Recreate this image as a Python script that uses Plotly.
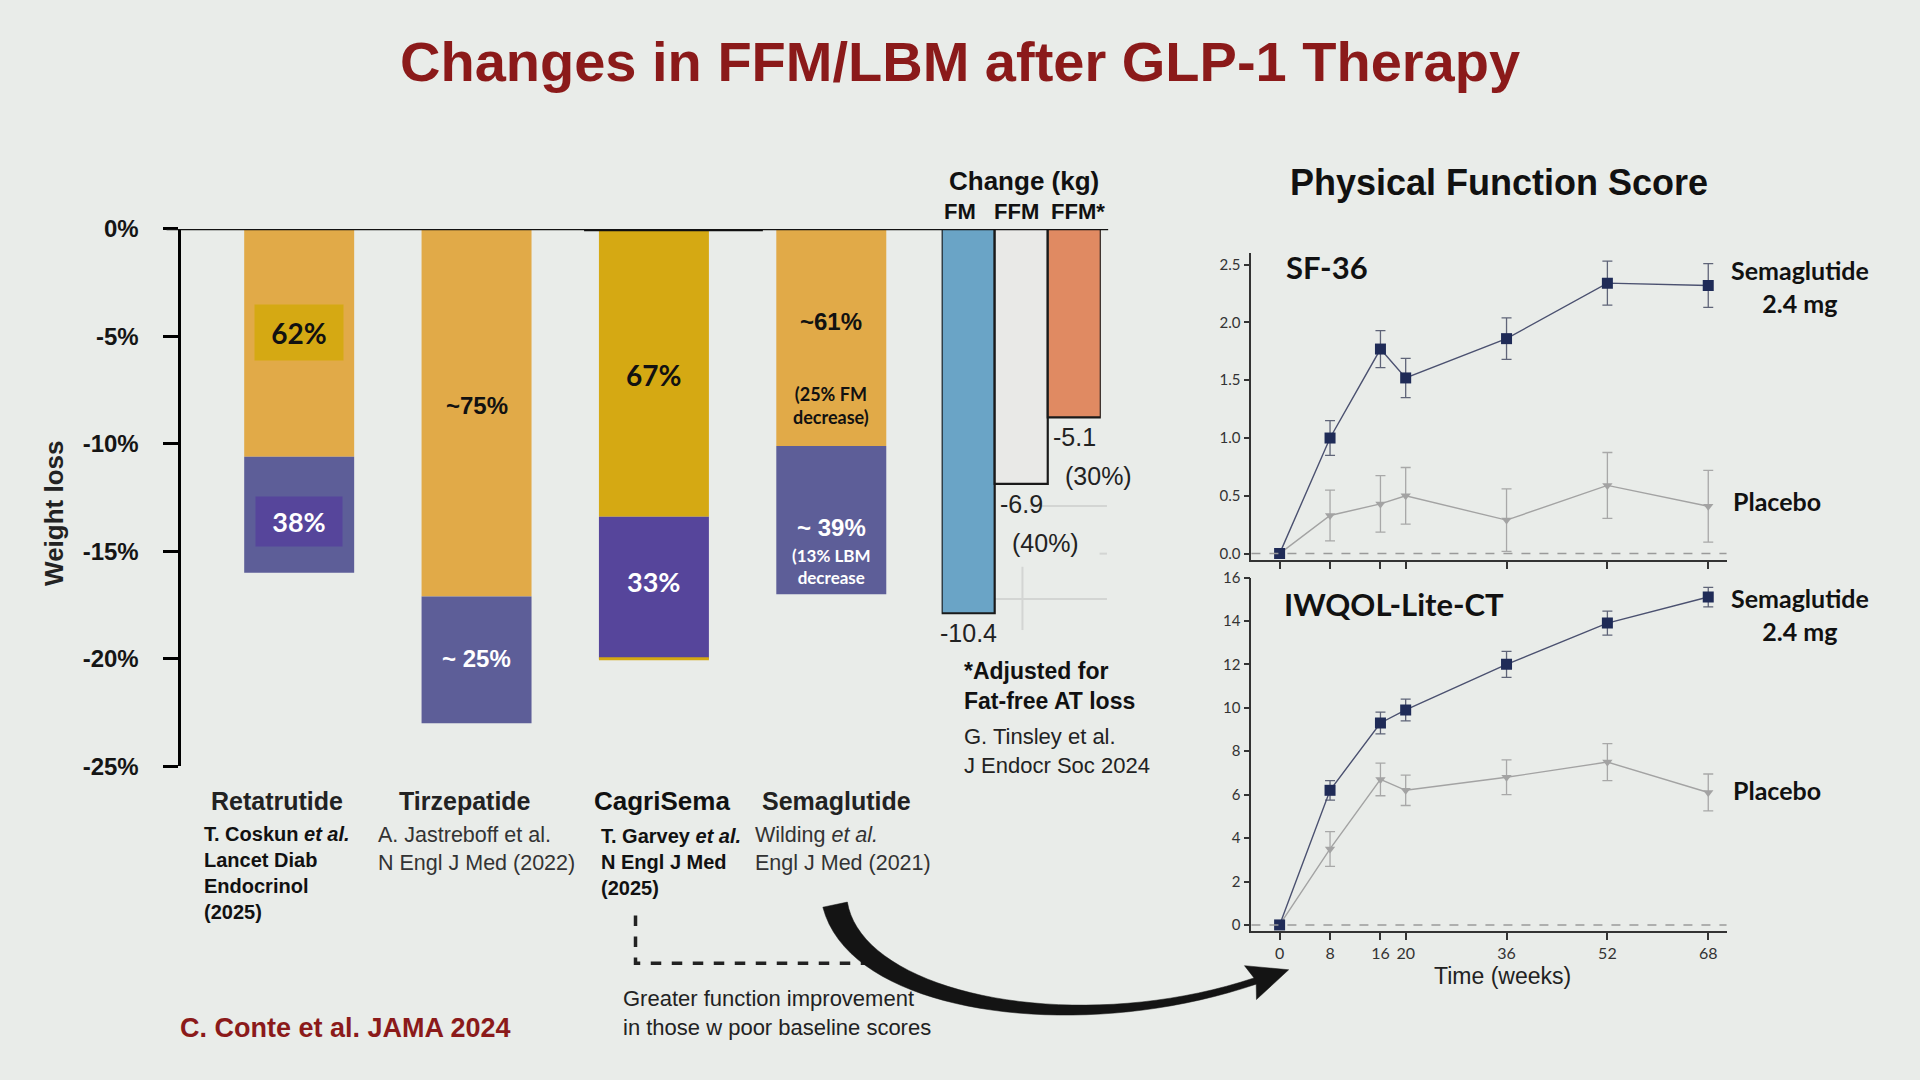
import numpy as np
import plotly.graph_objects as go

### Changes in FFM/LBM after GLP-1 therapy - slide rebuilt in plotly

# weight loss split (% of body weight), fat part then lean part
drugs = ['Retatrutide', 'Tirzepatide', 'CagriSema', 'Semaglutide']
fat_loss = [-10.6, -17.1, -13.4, -10.1]
lean_loss = [-5.4, -5.9, -6.6, -6.9]
fat_share = ['62%', '~75%', '67%', '~61%']
lean_share = ['38%', '~ 25%', '33%', '~ 39%']
pct_ticks = [0, -5, -10, -15, -20, -25]
pct_ticktext = ['0%', '-5%', '-10%', '-15%', '-20%', '-25%']

# Tinsley et al. change in kg
kg_labels = ['FM', 'FFM', 'FFM*']
kg_change = [-10.4, -6.9, -5.1]
kg_share = ['', '(40%)', '(30%)']

# physical function scores (STEP 1)
weeks = [0, 8, 16, 20, 36, 52, 68]
sf36_sema = [0.0, 1.00, 1.77, 1.52, 1.86, 2.34, 2.32]
sf36_sema_err = [0.0, 0.15, 0.16, 0.17, 0.18, 0.19, 0.19]
sf36_plac = [0.0, 0.33, 0.43, 0.50, 0.29, 0.59, 0.41]
sf36_plac_err = [0.0, 0.22, 0.245, 0.245, 0.27, 0.285, 0.31]
iwqol_sema = [0.0, 6.2, 9.3, 9.9, 12.0, 13.9, 15.1]
iwqol_sema_err = [0.0, 0.45, 0.5, 0.5, 0.6, 0.55, 0.45]
iwqol_plac = [0.0, 3.5, 6.7, 6.2, 6.8, 7.5, 6.1]
iwqol_plac_err = [0.0, 0.8, 0.75, 0.7, 0.8, 0.85, 0.85]
sf36_ticks = [0, 0.5, 1.0, 1.5, 2.0, 2.5]
iwqol_ticks = [0, 2, 4, 6, 8, 10, 12, 14, 16]

BG = '#e9ece9'
RED = '#8b1a1a'
ARIAL = 'Liberation Sans, Arial'
CAL = 'Lato, Carlito, Calibri'

fat_colors = ['#e1aa48', '#e1aa48', '#d5a913', '#e1aa48']
lean_colors = ['#5d5e98', '#5d5e98', '#56459b', '#5d5e98']
kg_colors = ['#6aa4c6', '#e9e9e7', '#e08a62']

# measured the slide on a 1568 x 882 grid
W0, H0 = 1568, 882
def px(x):
    return x / W0
def py(y):
    return 1 - y / H0

fig = go.Figure()

# left: stacked weight-loss bars
fig.add_trace(go.Bar(x=drugs, y=fat_loss, width=0.62, marker=dict(color=fat_colors, line_width=0),
                     xaxis='x', yaxis='y', hoverinfo='skip'))
fig.add_trace(go.Bar(x=drugs, y=lean_loss, width=0.62, marker=dict(color=lean_colors, line_width=0),
                     xaxis='x', yaxis='y', hoverinfo='skip'))

# middle: change in kg
fig.add_trace(go.Bar(x=kg_labels, y=kg_change, width=1.0,
                     marker=dict(color=kg_colors, line=dict(color='#1a1a1a', width=2.2)),
                     xaxis='x2', yaxis='y2', hoverinfo='skip'))

# right: SF-36 and IWQOL-Lite-CT
def add_series(y, err, ax, color, ecolor, symbol, size):
    fig.add_trace(go.Scatter(x=weeks, y=y, mode='lines+markers', xaxis='x' + ax, yaxis='y' + ax,
                             line=dict(color=color, width=1.4),
                             marker=dict(symbol=symbol, size=size, color=color if symbol != 'square' else '#1f2b57'),
                             error_y=dict(type='data', array=err, color=ecolor, thickness=1.3, width=5)))

add_series(sf36_plac, sf36_plac_err, '3', '#a3a3a3', '#a8a8a8', 'triangle-down', 9)
add_series(sf36_sema, sf36_sema_err, '3', '#4b5170', '#5f6478', 'square', 11)
add_series(iwqol_plac, iwqol_plac_err, '4', '#a3a3a3', '#a8a8a8', 'triangle-down', 9)
add_series(iwqol_sema, iwqol_sema_err, '4', '#4b5170', '#5f6478', 'square', 11)

right_x = dict(domain=[px(1022), px(1410)], range=[-4.47, 70.9], tickvals=weeks, ticks='outside',
               ticklen=7, tickwidth=1.5, tickcolor='#333', showline=True, linecolor='#333', linewidth=1.8,
               showgrid=False, zeroline=False, tickfont=dict(family=CAL, size=16, color='#333'))
right_y = dict(ticks='outside', ticklen=6, tickwidth=1.5, tickcolor='#333', showline=True, linecolor='#333',
               linewidth=1.8, showgrid=False, zeroline=False, tickfont=dict(family=CAL, size=15, color='#333'))

fig.update_layout(
    width=1920, height=1080, autosize=False,
    margin=dict(l=0, r=0, t=0, b=0),
    paper_bgcolor=BG, plot_bgcolor=BG,
    showlegend=False, barmode='relative',
    xaxis=dict(domain=[px(148), px(760)], range=[-0.665, 3.56], visible=False),
    yaxis=dict(domain=[py(630), py(180)], range=[-25, 0], anchor='x',
               tickvals=pct_ticks, ticktext=pct_ticktext, ticks='outside', ticklen=15, tickwidth=2.5,
               tickcolor='black', showline=True, linecolor='black', linewidth=2.5, showgrid=False,
               zeroline=False, ticklabelstandoff=20,
               tickfont=dict(family=ARIAL, size=24, color='#151515', weight='bold')),
    xaxis2=dict(domain=[px(769), px(899)], range=[-0.5, 2.5], anchor='y2', visible=False),
    yaxis2=dict(domain=[py(613.4), py(180)], range=[-14, 0], anchor='x2', visible=False),
    xaxis3=dict(right_x, anchor='y3', showticklabels=False),
    yaxis3=dict(right_y, domain=[py(457), py(200)], range=[-0.052, 2.603], anchor='x3',
                tickvals=sf36_ticks, tickformat='.1f'),
    xaxis4=dict(right_x, anchor='y4'),
    yaxis4=dict(right_y, domain=[py(768), py(472)], range=[-0.275, 16], anchor='x4', tickvals=iwqol_ticks),
)

ann = []
def txt(x, y, text, size, family=ARIAL, color='#111', xanchor='center', yanchor='middle', **kw):
    d = dict(x=x, y=y, xref=kw.pop('xref', 'paper'), yref=kw.pop('yref', 'paper'), text=text,
             showarrow=False, xanchor=xanchor, yanchor=yanchor, align=kw.pop('align', 'center'),
             font=dict(family=family, size=size, color=color))
    d.update(kw)
    ann.append(d)

txt(px(784), py(40), '<b>Changes in FFM/LBM after GLP-1 Therapy</b>', 56, color=RED)
txt(px(44), py(418), '<b>Weight loss</b>', 26, color='#222', textangle=-90)

# segment labels on the stacked bars
fat_y = [-4.8, -8.2, -6.8, -4.3]
lean_y = [-13.6, -20.0, -16.4, -13.9]
for i, d in enumerate(drugs):
    fam = CAL if fat_share[i] in ('62%', '67%') else ARIAL
    box = dict(bgcolor='#d5a913', width=86, height=53) if i == 0 else {}
    txt(d, fat_y[i], '<b>%s</b>' % fat_share[i], 28 if fam == CAL else 24, family=fam,
        xref='x', yref='y', **box)
    fam = CAL if lean_share[i] in ('38%', '33%') else ARIAL
    box = dict(bgcolor='#56459b', width=84, height=47) if i == 0 else {}
    txt(d, lean_y[i], '<b>%s</b>' % lean_share[i], 27 if fam == CAL else 24, family=fam, color='white',
        xref='x', yref='y', **box)
txt('Semaglutide', -8.2, '<b>(25% FM<br>decrease)</b>', 18, family=CAL, xref='x', yref='y')
txt('Semaglutide', -15.7, '<b>(13% LBM<br>decrease</b>', 17, family=CAL, color='white', xref='x', yref='y')

# drug names and references
txt(px(226), py(659), '<b>Retatrutide</b>', 25, color='#222')
txt(px(380), py(659), '<b>Tirzepatide</b>', 25, color='#222')
txt(px(541), py(659), '<b>CagriSema</b>', 26, color='#111')
txt(px(683), py(659), '<b>Semaglutide</b>', 25, color='#222')
txt(px(165), py(676), '<b>T. Coskun <i>et al.</i><br>Lancet Diab<br>Endocrinol<br>(2025)</b>', 20,
    xanchor='left', yanchor='top', align='left')
txt(px(307), py(676), 'A. Jastreboff et al.<br>N Engl J Med (2022)', 21.5, color='#333',
    xanchor='left', yanchor='top', align='left')
txt(px(489), py(678), '<b>T. Garvey <i>et al.</i><br>N Engl J Med<br>(2025)</b>', 20,
    xanchor='left', yanchor='top', align='left')
txt(px(615), py(676), 'Wilding <i>et al.</i><br>Engl J Med (2021)', 21.5, color='#333',
    xanchor='left', yanchor='top', align='left')
txt(px(145), py(849), '<b>C. Conte et al. JAMA 2024</b>', 27, color=RED, xanchor='left')
txt(px(507), py(837), 'Greater function improvement<br>in those w poor baseline scores', 22, color='#222',
    xanchor='left', align='left')

# change in kg labels (header row sits a bit left of the bars on the slide)
txt(px(836), py(140), '<b>Change (kg)</b>', 26, color='#111')
head_shift = [-8, -5, 4]
for lab, dx in zip(kg_labels, head_shift):
    txt(lab, 0, '<b>%s</b>' % lab, 22, color='#111', xref='x2', yref='y2', yanchor='bottom',
        yshift=3, xshift=dx)
for lab, v, share in zip(kg_labels, kg_change, kg_share):
    txt(lab, v, '%.1f' % v, 25, color='#222', xref='x2', yref='y2', yanchor='top', yshift=-4)
    if share:
        txt(lab, v, share, 25, color='#222', xref='x2', yref='y2', yanchor='top', yshift=-43, xshift=24)
txt(px(786), py(563), '<b>*Adjusted for<br>Fat-free AT loss</b>', 23, xanchor='left', align='left')
txt(px(786), py(617), 'G. Tinsley et al.<br>J Endocr Soc 2024', 22, color='#222', xanchor='left', align='left')

# right panel texts
txt(px(1224), py(141), '<b>Physical Function Score</b>', 36)
txt(px(1049), py(212), '<b>SF-36</b>', 31, family=CAL, xanchor='left')
txt(px(1047), py(494), '<b>IWQOL-Lite-CT</b>', 31, family=CAL, xanchor='left')
txt(px(1470), py(228), '<b>Semaglutide<br>2.4 mg</b>', 25, family=CAL)
txt(px(1451), py(408), '<b>Placebo</b>', 25, family=CAL)
txt(px(1470), py(503), '<b>Semaglutide<br>2.4 mg</b>', 25, family=CAL)
txt(px(1451), py(650), '<b>Placebo</b>', 25, family=CAL)
txt(px(1227), py(806), 'Time (weeks)', 23, color='#222')

fig.update_layout(annotations=ann)

# zero line for both bar panels, thicker bit above CagriSema
shapes = [
    dict(type='line', xref='paper', yref='y', x0=px(136), x1=px(905), y0=0, y1=0,
         line=dict(color='#111', width=2.5)),
    dict(type='line', xref='paper', yref='y', x0=px(477), x1=px(623), y0=0, y1=0,
         line=dict(color='#111', width=4.5)),
    dict(type='path', xref='paper', yref='paper',
         path='M %f,%f L %f,%f L %f,%f' % (px(519), py(755), px(519), py(795), px(727), py(795)),
         line=dict(color='#222', width=3.5, dash='dash')),
]
# thin gold rim under the CagriSema bar
cagri_bottom = fat_loss[2] + lean_loss[2]
shapes.append(dict(type='line', xref='x', yref='y', x0=2 - 0.31, x1=2 + 0.31, y0=cagri_bottom, y1=cagri_bottom,
                   line=dict(color='#d5a913', width=3)))
# faint leftover grid lines next to the kg bars on the slide
for x0, y0, x1, y1 in [(841, 412, 904, 412), (812, 490, 904, 490), (835, 463, 835, 516), (898, 452, 904, 452)]:
    shapes.append(dict(type='line', xref='paper', yref='paper', x0=px(x0), y0=py(y0), x1=px(x1), y1=py(y1),
                       line=dict(color='#d3d5d3', width=2), layer='below'))
for ax in ('3', '4'):
    shapes.append(dict(type='line', xref='x%s domain' % ax, yref='y' + ax, x0=0, x1=1, y0=0, y1=0,
                       line=dict(color='#9a9a9a', width=1.5, dash='dash')))

# curved arrow (tapered bezier + head)
P0, P1, P2, P3 = map(np.array, [(682, 746), (700, 830), (880, 860), (1025, 810)])
t = np.linspace(0, 1, 40)[:, None]
c = (1 - t) ** 3 * P0 + 3 * (1 - t) ** 2 * t * P1 + 3 * (1 - t) * t ** 2 * P2 + t ** 3 * P3
d = 3 * (1 - t) ** 2 * (P1 - P0) + 6 * (1 - t) * t * (P2 - P1) + 3 * t ** 2 * (P3 - P2)
d = d / np.linalg.norm(d, axis=1)[:, None]
n = np.column_stack([-d[:, 1], d[:, 0]])
w = (15 * (1 - t[:, 0]) ** 1.5 + 5.5) / 2
side_a = c + n * w[:, None]
side_b = c - n * w[:, None]
tip = P3 + 29 * d[-1]
barb_a = P3 + 15 * n[-1] - 4 * d[-1]
barb_b = P3 - 15 * n[-1] - 4 * d[-1]
pts = list(side_a) + [barb_a, tip, barb_b] + list(side_b[::-1])
path = 'M ' + ' L '.join('%f,%f' % (px(p[0]), py(p[1])) for p in pts) + ' Z'
shapes.append(dict(type='path', xref='paper', yref='paper', path=path, fillcolor='#141414',
                   line=dict(color='#141414', width=0.5)))

fig.update_layout(shapes=shapes)

# page body has a default margin, pin the page to the slide size
page_js = ("var s=document.documentElement.style,b=document.body.style;"
           "s.margin=b.margin='0';s.padding=b.padding='0';s.overflow=b.overflow='hidden';"
           "s.height=b.height='1080px';")
fig.write_html('out.html', config={'displayModeBar': False}, post_script=page_js)
